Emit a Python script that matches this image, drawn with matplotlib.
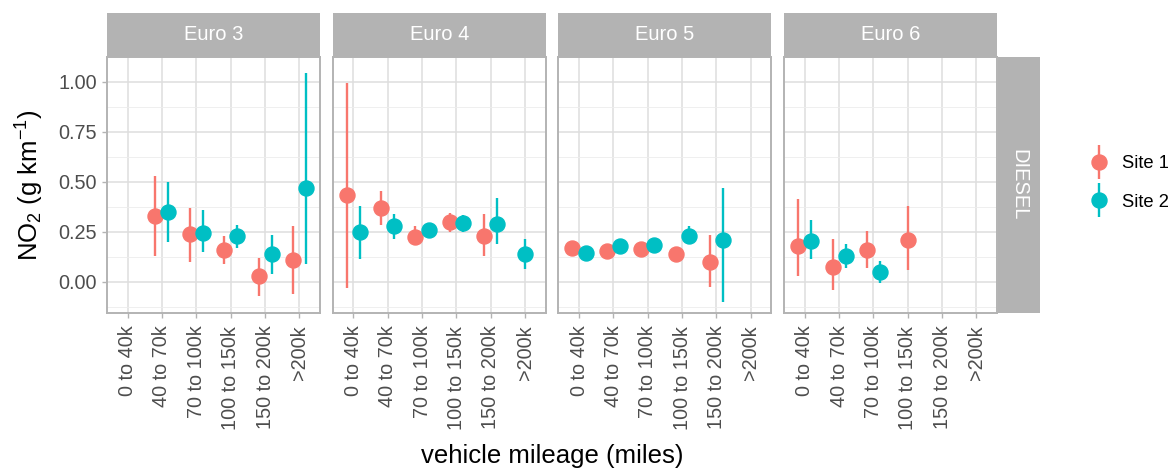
import numpy as np
import matplotlib
matplotlib.use("Agg")
import matplotlib.pyplot as plt
from matplotlib.container import ErrorbarContainer
from matplotlib.legend_handler import HandlerErrorbar

plt.rcParams["font.family"] = ["Liberation Sans", "DejaVu Sans"]
plt.rcParams["mathtext.fontset"] = "custom"
plt.rcParams["mathtext.rm"] = "Liberation Sans"
plt.rcParams["mathtext.it"] = "Liberation Sans:italic"

# ---- data -------------------------------------------------------------
mileage = ["0 to 40k", "40 to 70k", "70 to 100k", "100 to 150k", "150 to 200k", ">200k"]
euro_classes = ["Euro 3", "Euro 4", "Euro 5", "Euro 6"]
fuel = "DIESEL"
sites = ["Site 1", "Site 2"]
nan = np.nan

# mean NO2 (g/km), rows = Euro class, columns = mileage band
site1_mean = [[nan, 0.33, 0.24, 0.16, 0.03, 0.11],
              [0.435, 0.37, 0.225, 0.30, 0.23, nan],
              [0.17, 0.152, 0.162, 0.14, 0.10, nan],
              [0.18, 0.075, 0.16, 0.21, nan, nan]]
site1_low = [[nan, 0.13, 0.10, 0.09, -0.07, -0.06],
             [-0.03, 0.285, 0.185, 0.25, 0.13, nan],
             [0.155, 0.135, 0.145, 0.12, -0.025, nan],
             [0.03, -0.04, 0.07, 0.06, nan, nan]]
site1_high = [[nan, 0.53, 0.37, 0.23, 0.12, 0.28],
              [0.995, 0.455, 0.28, 0.345, 0.34, nan],
              [0.185, 0.17, 0.18, 0.175, 0.235, nan],
              [0.415, 0.215, 0.255, 0.38, nan, nan]]

site2_mean = [[nan, 0.35, 0.245, 0.23, 0.14, 0.47],
              [0.25, 0.28, 0.26, 0.295, 0.29, 0.14],
              [0.145, 0.18, 0.185, 0.23, 0.21, nan],
              [0.205, 0.13, 0.05, nan, nan, nan]]
site2_low = [[nan, 0.20, 0.15, 0.17, 0.04, 0.09],
             [0.115, 0.215, 0.22, 0.25, 0.19, 0.065],
             [0.13, 0.165, 0.17, 0.20, -0.10, nan],
             [0.115, 0.07, -0.005, nan, nan, nan]]
site2_high = [[nan, 0.50, 0.36, 0.285, 0.235, 1.045],
              [0.38, 0.34, 0.285, 0.335, 0.42, 0.215],
              [0.16, 0.195, 0.20, 0.28, 0.47, nan],
              [0.31, 0.19, 0.105, nan, nan, nan]]

y_ticks = [0.00, 0.25, 0.50, 0.75, 1.00]

# ---- style ------------------------------------------------------------
colors = ["#F8766D", "#00BFC4"]
grey70 = "#B3B3B3"
grey87 = "#DEDEDE"
grey93 = "#EDEDED"
grey30 = "#4D4D4D"
tick_fs = 14.3
strip_fs = 14.5
title_fs = 18.5
legend_fs = 13.2
dodge = 0.19

W, H = 1175, 468
fig = plt.figure(figsize=(W / 100, H / 100), dpi=100)


def frame(x0, y0, x1, y1):
    return [x0 / W, 1 - y1 / H, (x1 - x0) / W, (y1 - y0) / H]


means = [np.array(site1_mean, float), np.array(site2_mean, float)]
lows = [np.array(site1_low, float), np.array(site2_low, float)]
highs = [np.array(site1_high, float), np.array(site2_high, float)]

lo_all = min(np.nanmin(l) for l in lows)
hi_all = max(np.nanmax(h) for h in highs)
pad = 0.05 * (hi_all - lo_all)
ylim = (lo_all - pad, hi_all + pad)
xpos = np.arange(len(mileage))

panel_top, panel_bottom = 56.7, 313.0
strip_top = 12.7
panel_w, step, left0 = 213.0, 225.7, 107.0

handles = []
for i, euro in enumerate(euro_classes):
    x0 = left0 + i * step
    ax = fig.add_axes(frame(x0, panel_top, x0 + panel_w, panel_bottom))
    ax.set_xlim(-0.6, len(mileage) - 0.4)
    ax.set_ylim(*ylim)

    present = [~np.isnan(m[i]) for m in means]
    both = present[0] & present[1]
    for s in range(2):
        m = present[s]
        offset = np.where(both, (-dodge if s == 0 else dodge), 0.0)
        x = xpos + offset
        mu = means[s][i]
        yerr = np.vstack([mu - lows[s][i], highs[s][i] - mu])
        h = ax.errorbar(x[m], mu[m], yerr=yerr[:, m], fmt="o", color=colors[s],
                        ms=10.8, mec=colors[s], elinewidth=1.7, capsize=0,
                        zorder=3 + s, label=sites[s])
        if i == 0:
            handles.append(h)

    # grid
    ax.set_yticks(y_ticks)
    ax.set_yticks([t + 0.125 for t in [-0.25] + y_ticks], minor=True)
    ax.set_xticks(xpos)
    ax.grid(which="major", color=grey87, lw=1.1)
    ax.grid(which="minor", axis="y", color=grey93, lw=0.6)
    ax.set_axisbelow(True)
    for sp in ax.spines.values():
        sp.set_color(grey70)
        sp.set_linewidth(1.4)
    ax.tick_params(which="minor", length=0)
    ax.tick_params(which="major", color=grey70, length=3.6, width=1.0,
                   labelcolor=grey30, labelsize=tick_fs, pad=3.5)
    ax.tick_params(axis="x", pad=5.5)
    ax.set_xticklabels(mileage, rotation=90)
    if i == 0:
        ax.set_yticklabels([f"{t:.2f}" for t in y_ticks])
    else:
        ax.tick_params(axis="y", which="both", left=False, labelleft=False)

    # facet strip on top
    sax = fig.add_axes(frame(x0, strip_top, x0 + panel_w, panel_top))
    sax.set_facecolor(grey70)
    sax.set_xticks([])
    sax.set_yticks([])
    for sp in sax.spines.values():
        sp.set_visible(False)
    sax.text(0.5, 0.5, euro, color="white", fontsize=strip_fs,
             ha="center", va="center", transform=sax.transAxes)

# facet strip on the right
rx0 = left0 + 3 * step + panel_w + 1.0
rax = fig.add_axes(frame(rx0, panel_top, rx0 + 42.0, panel_bottom))
rax.set_facecolor(grey70)
rax.set_xticks([])
rax.set_yticks([])
for sp in rax.spines.values():
    sp.set_visible(False)
rax.text(0.5, 0.5, fuel, color="white", fontsize=strip_fs, rotation=270,
         ha="center", va="center", transform=rax.transAxes)

# axis titles
fig.text((left0 + 3 * step + panel_w + left0) / 2 / W, 1 - 456 / H,
         "vehicle mileage (miles)", ha="center", va="center", fontsize=title_fs)
fig.text(30 / W, 1 - (panel_top + panel_bottom) / 2 / H,
         r"NO$_2$ (g km$^{-1}$)", ha="center", va="center",
         rotation=90, fontsize=title_fs)

# legend
fig.legend(handles, sites, loc="center left",
           bbox_to_anchor=(1079 / W, 1 - 183 / H), frameon=False,
           fontsize=legend_fs, handlelength=1.4, handletextpad=0.55,
           labelspacing=1.15, borderaxespad=0,
           handler_map={ErrorbarContainer: HandlerErrorbar(xerr_size=0.92)})

fig.savefig("out.png", dpi=100)
